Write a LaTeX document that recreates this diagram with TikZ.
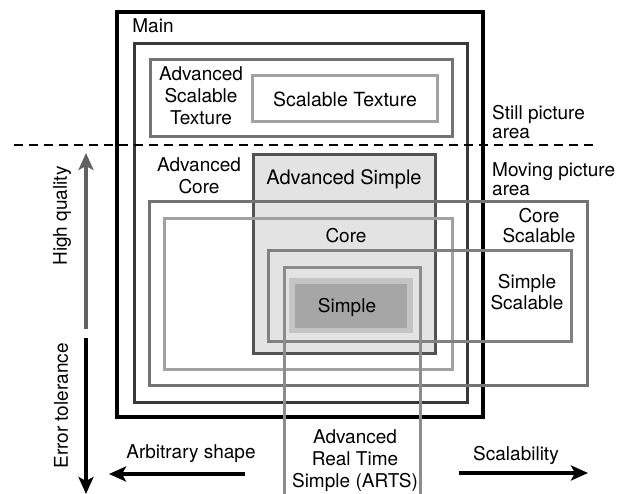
\documentclass[tikz,border=0pt]{standalone}
\usepackage{fontspec}
\setmainfont{TeX Gyre Heros}
\usetikzlibrary{arrows.meta}

\definecolor{asfill}{gray}{0.89}
\definecolor{simpleout}{gray}{0.77}
\definecolor{simplein}{gray}{0.65}
\definecolor{acline}{gray}{0.22}
\definecolor{asline}{gray}{0.32}
\definecolor{midline}{gray}{0.45}
\definecolor{lightline}{gray}{0.63}
\definecolor{hqline}{gray}{0.38}

\tikzset{
  every node/.style={font=\fontsize{19}{22}\selectfont, align=center, inner sep=0pt},
  frame/.style={line width=3pt},
  axis/.style={line width=3.5pt, -{Stealth[length=17pt,width=15pt,inset=4pt]}},
}

\begin{document}
\begin{tikzpicture}[x=1pt,y=-1pt]
  \useasboundingbox (0,0) rectangle (623,494);

  % filled areas
  \fill[asfill] (253,155) rectangle (435,353);
  \fill[simpleout] (289,278) rectangle (413,333);
  \fill[simplein] (295,284) rectangle (407,328);

  % still picture profiles
  \draw[line width=4pt] (117,12) rectangle (483,417);
  \draw[frame, acline] (134,44) rectangle (467,402);
  \draw[frame, midline] (150,60) rectangle (452,137);
  \draw[frame, lightline] (252,76) rectangle (437,122);

  % moving picture profiles
  \draw[frame, asline] (253,155) rectangle (435,353);
  \draw[frame, midline] (149,202) rectangle (587,385);
  \draw[frame, lightline] (164,219) rectangle (452,369);
  \draw[frame, gray] (268,250) rectangle (571,341);
  \draw[frame, gray!90] (284,500) -- (284,267) -- (420,267) -- (420,500);

  \coordinate (sep-w) at (14,145);
  \coordinate (sep-e) at (596,145);
  \draw[line width=2.5pt, dash pattern=on 9pt off 6pt] (sep-w) -- (sep-e);

  \node (main) at (153,26) {Main};
  \node (ast) at (201,96) {Advanced\\Scalable\\Texture};
  \node[font=\fontsize{19.5}{22}\selectfont] (st) at (345,99) {Scalable Texture};
  \node[anchor=west, font=\fontsize{19}{19}\selectfont, align=left] (still) at (492,122) {Still picture\\area};
  \node[anchor=west, font=\fontsize{19}{19}\selectfont, align=left] (moving) at (492,179) {Moving picture\\area};
  \node (acore) at (199,176) {Advanced\\Core};
  \node[font=\fontsize{20}{22}\selectfont] (asimple) at (344,179) {Advanced Simple};
  \node (core) at (346,236) {Core};
  \node[font=\fontsize{19}{20}\selectfont] (cscal) at (539,226) {Core\\Scalable};
  \node[font=\fontsize{19}{21}\selectfont] (sscal) at (527,292) {Simple\\Scalable};
  \node (simple) at (347,307) {Simple};
  \node (arts) at (355,461) {Advanced\\Real Time\\Simple (ARTS)};

  % axes
  \coordinate (hq-s) at (86,329);
  \coordinate (hq-e) at (86,153);
  \coordinate (et-s) at (86,338);
  \coordinate (et-e) at (86,494);
  \coordinate (arb-s) at (245,474);
  \coordinate (arb-e) at (109,474);
  \coordinate (scal-s) at (459,473);
  \coordinate (scal-e) at (588,473);
  \draw[axis, hqline] (hq-s) -- (hq-e);
  \draw[axis] (et-s) -- (et-e);
  \draw[axis] (arb-s) -- (arb-e);
  \draw[axis] (scal-s) -- (scal-e);

  \node[rotate=90] (hq) at (62,216) {High quality};
  \node[rotate=90] (et) at (61,406) {Error tolerance};
  \node (arb) at (191,454) {Arbitrary shape};
  \node (scal) at (516,455) {Scalability};
\end{tikzpicture}
\end{document}
